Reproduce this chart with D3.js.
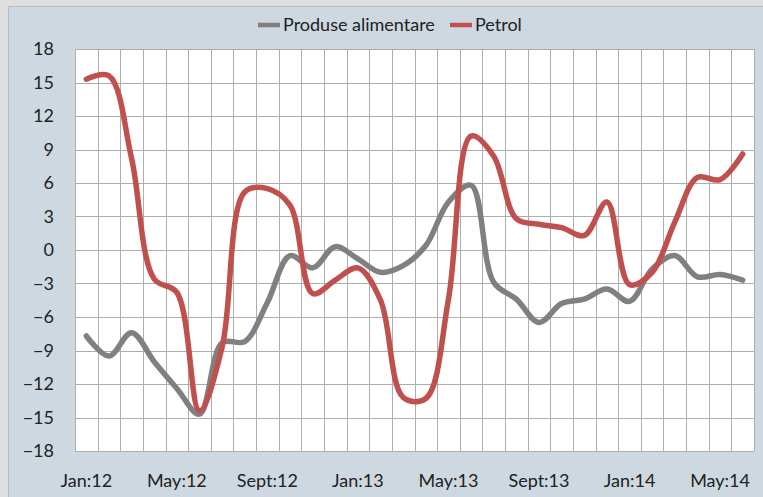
<!DOCTYPE html>
<html lang="ro">
<head>
    <meta charset="UTF-8">
    <title>Produse alimentare si Petrol</title>
    <script src="https://d3js.org/d3.v7.min.js"></script>
    <style>
        body {
            margin: 0;
            background-color: #dedede;
        }
        svg {
            display: block;
            font-family: Lato, "Open Sans", sans-serif;
        }
    </style>
</head>
<body>
    <svg width="763" height="497"></svg>
    <script>
        // Months, Jan 2012 - Jun 2014
        const months = [
            "Jan:12", "Feb:12", "Mar:12", "Apr:12", "May:12", "Jun:12",
            "Jul:12", "Aug:12", "Sept:12", "Oct:12", "Nov:12", "Dec:12",
            "Jan:13", "Feb:13", "Mar:13", "Apr:13", "May:13", "Jun:13",
            "Jul:13", "Aug:13", "Sept:13", "Oct:13", "Nov:13", "Dec:13",
            "Jan:14", "Feb:14", "Mar:14", "Apr:14", "May:14", "Jun:14"
        ];
        const food = [
            -7.7, -9.5, -7.4, -10.0, -12.4, -14.7, -8.3, -8.2, -4.7, -0.5,
            -1.6, 0.3, -0.8, -2.0, -1.4, 0.4, 4.3, 5.8, -2.9, -4.4,
            -6.5, -4.8, -4.4, -3.5, -4.6, -1.7, -0.5, -2.4, -2.2, -2.7
        ];
        const petrol = [
            15.3, 15.6, 8.2, -2.6, -3.8, -14.4, -8.7, 5.2, 5.5, 4.0,
            -3.9, -2.7, -1.6, -4.5, -13.2, -13.3, -4.4, 10.2, 8.4, 2.8,
            2.3, 2.0, 1.3, 4.3, -3.1, -2.0, 2.5, 6.5, 6.3, 8.6
        ];
        const yTicks = [-18, -15, -12, -9, -6, -3, 0, 3, 6, 9, 12, 15, 18];
        const series = [
            { name: "Produse alimentare", values: food, color: "#808080" },
            { name: "Petrol", values: petrol, color: "#c0504d" }
        ];

        const svg = d3.select("svg"),
            margin = { top: 49, right: 9, bottom: 46, left: 75 },
            width = +svg.attr("width") - margin.left - margin.right,
            height = +svg.attr("height") - margin.top - margin.bottom;

        // Chart area background
        svg.append("rect")
            .attr("x", 8.5).attr("y", 6.5)
            .attr("width", 760).attr("height", 500)
            .attr("fill", "#cdd8e0")
            .attr("stroke", "#b4bec6");

        const g = svg.append("g")
            .attr("transform", `translate(${margin.left},${margin.top})`);

        // Scales
        const x = d3.scaleBand()
            .domain(months)
            .range([0, width]);

        const y = d3.scaleLinear()
            .domain([-18, 18])
            .range([height, 0]);

        // Plot area + grid
        g.append("rect")
            .attr("width", width).attr("height", height)
            .attr("fill", "#fff");

        g.append("g")
            .selectAll("line")
            .data(yTicks)
            .join("line")
            .attr("x1", 0).attr("x2", width)
            .attr("y1", d => Math.round(y(d)) + 0.5)
            .attr("y2", d => Math.round(y(d)) + 0.5)
            .attr("stroke", "#adadad");

        g.append("g")
            .selectAll("line")
            .data(months.map(m => x(m)).concat([width]))
            .join("line")
            .attr("x1", d => Math.round(d) + 0.5).attr("x2", d => Math.round(d) + 0.5)
            .attr("y1", 0).attr("y2", height)
            .attr("stroke", "#adadad");

        // Axes (labels only)
        const yAxis = g.append("g")
            .call(d3.axisLeft(y).tickValues(yTicks).tickSize(0).tickPadding(21));
        yAxis.select(".domain").remove();

        const xAxis = g.append("g")
            .attr("transform", `translate(0,${height})`)
            .call(d3.axisBottom(x)
                .tickValues(months.filter((m, i) => i % 4 === 0))
                .tickSize(0).tickPadding(23));
        xAxis.select(".domain").remove();

        g.selectAll(".tick text")
            .attr("font-size", 18)
            .attr("font-family", "Lato, 'Open Sans', sans-serif")
            .attr("fill", "#222");

        // Lines
        const line = d3.line()
            .x((d, i) => x(months[i]) + x.bandwidth() / 2)
            .y(d => y(d))
            .curve(d3.curveCatmullRom.alpha(0.5));

        g.selectAll(".series")
            .data(series)
            .join("path")
            .attr("class", "series")
            .attr("d", d => line(d.values))
            .attr("fill", "none")
            .attr("stroke", d => d.color)
            .attr("stroke-width", 5.5)
            .attr("stroke-linejoin", "round")
            .attr("stroke-linecap", "round");

        // Legend
        const legendPos = [258, 450];
        const legend = svg.append("g")
            .selectAll("g")
            .data(series)
            .join("g")
            .attr("transform", (d, i) => `translate(${legendPos[i]},25)`);

        legend.append("line")
            .attr("x1", 0).attr("x2", 22)
            .attr("stroke", d => d.color)
            .attr("stroke-width", 4.5);

        legend.append("text")
            .attr("x", 25)
            .attr("dy", "0.35em")
            .attr("font-size", 18)
            .attr("fill", "#222")
            .text(d => d.name);
    </script>
</body>
</html>
